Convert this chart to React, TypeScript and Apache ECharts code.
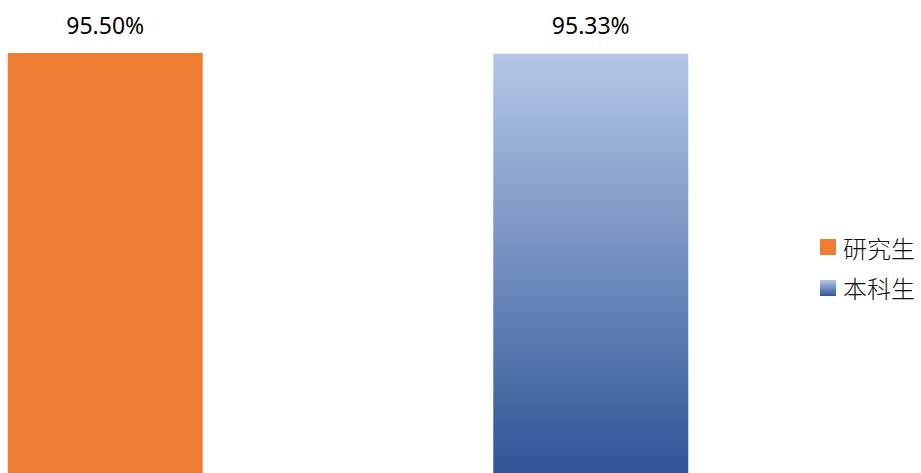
import React, { useEffect, useRef } from "react";
import * as echarts from "echarts";

const categories = ["比例"];
const seriesNames = ["研究生", "本科生"];
const values = [95.5, 95.33];

export default function App() {
  const ref = useRef<HTMLDivElement>(null);
  useEffect(() => {
    if (!ref.current) return;
    const chart = echarts.init(ref.current, null, { renderer: "svg" });
    const font = "'Noto Sans', 'Noto Sans CJK SC', sans-serif";
    const labelStyle = {
      show: true,
      position: "top",
      distance: 17,
      fontSize: 23,
      color: "#000",
      fontFamily: font,
      formatter: (p: any) => p.value.toFixed(2) + "%",
    };
    chart.setOption({
      animation: false,
      backgroundColor: "#fff",
      grid: { left: 0, right: 225, top: 53, bottom: -80, containLabel: false },
      xAxis: {
        type: "category",
        data: categories,
        show: false,
      },
      yAxis: {
        type: "value",
        min: 0,
        max: 95.5,
        show: false,
        splitLine: { show: false },
      },
      legend: {
        orient: "vertical",
        left: 815,
        top: 230,
        itemWidth: 16,
        itemHeight: 16,
        itemGap: 17,
        icon: "rect",
        textStyle: { fontSize: 24, color: "#111", fontFamily: "'Noto Sans CJK SC', sans-serif", fontWeight: 300, padding: [0, 0, 0, 2] },
        data: seriesNames,
      },
      series: [
        {
          name: seriesNames[0],
          type: "bar",
          data: [values[0]],
          barWidth: 195,
          barGap: "149%",
          itemStyle: { color: "#ED7D31" },
          label: labelStyle,
        },
        {
          name: seriesNames[1],
          type: "bar",
          data: [values[1]],
          barWidth: 195,
          itemStyle: {
            color: new echarts.graphic.LinearGradient(0, 0, 0, 1, [
              { offset: 0, color: "#B4C7E7" },
              { offset: 1, color: "#2F5597" },
            ]),
          },
          label: labelStyle,
        },
      ],
    });
    return () => chart.dispose();
  }, []);
  return (
    <div
      ref={ref}
      style={{ position: "fixed", left: 0, top: 0, width: 921, height: 473 }}
    />
  );
}
